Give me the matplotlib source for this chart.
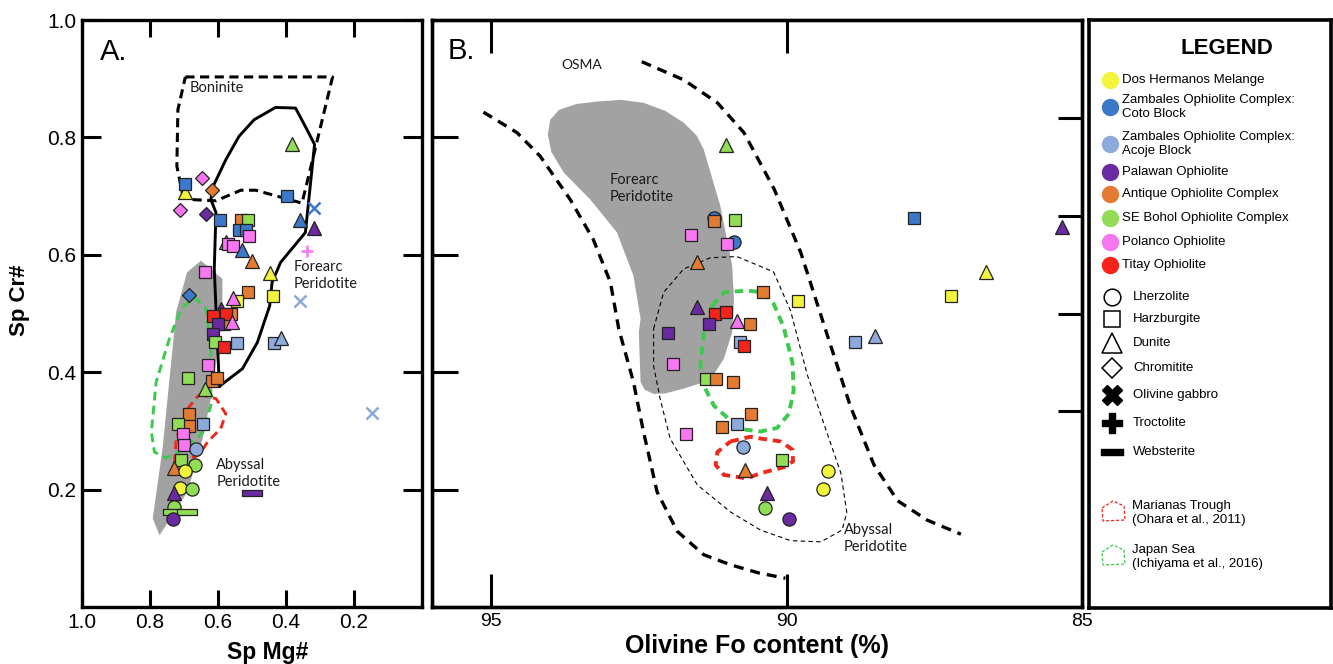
import matplotlib
matplotlib.use('Agg')
import matplotlib.pyplot as plt
from matplotlib.path import Path

plt.rcParams['font.family'] = ['Liberation Sans', 'DejaVu Sans']

# localities (colour key)
loc_codes = ['DH', 'ZC', 'ZA', 'PA', 'AN', 'BO', 'PO', 'TI']
loc_names = ['Dos Hermanos Melange',
             'Zambales Ophiolite Complex:\nCoto Block',
             'Zambales Ophiolite Complex:\nAcoje Block',
             'Palawan Ophiolite',
             'Antique Ophiolite Complex',
             'SE Bohol Ophiolite Complex',
             'Polanco Ophiolite',
             'Titay Ophiolite']
loc_colors = ['#f2f53c', '#3c78c8', '#8eaadc', '#6a2aa0',
              '#e37b33', '#93dc55', '#f777f0', '#f5231a']

# rock types (symbol key)
rock_codes = ['L', 'H', 'D', 'C', 'G', 'T', 'W']
rock_names = ['Lherzolite', 'Harzburgite', 'Dunite', 'Chromitite',
              'Olivine gabbro', 'Troctolite', 'Websterite']

# panel A: spinel Mg# vs Cr#
a_mg = [0.696, 0.696, 0.647, 0.619, 0.711, 0.635, 0.594, 0.531, 0.511, 0.538,
        0.517, 0.509, 0.577, 0.572, 0.556, 0.528, 0.501, 0.397, 0.382, 0.358,
        0.319, 0.319, 0.338, 0.358, 0.448, 0.438, 0.638, 0.511, 0.545, 0.556,
        0.684, 0.592, 0.562, 0.582, 0.616, 0.577, 0.558, 0.601, 0.614, 0.608,
        0.582, 0.545, 0.436, 0.416, 0.629, 0.687, 0.619, 0.603, 0.638, 0.686,
        0.684, 0.718, 0.645, 0.704, 0.699, 0.665, 0.708, 0.728, 0.668, 0.696,
        0.713, 0.676, 0.728, 0.728, 0.733, 0.690, 0.733, 0.499, 0.148]
a_cr = [0.707, 0.721, 0.730, 0.710, 0.676, 0.669, 0.660, 0.659, 0.660, 0.642,
        0.642, 0.632, 0.621, 0.618, 0.615, 0.608, 0.590, 0.700, 0.789, 0.659,
        0.645, 0.680, 0.606, 0.522, 0.569, 0.530, 0.571, 0.537, 0.522, 0.526,
        0.531, 0.508, 0.499, 0.482, 0.496, 0.499, 0.485, 0.482, 0.465, 0.451,
        0.443, 0.450, 0.450, 0.458, 0.413, 0.390, 0.385, 0.390, 0.371, 0.329,
        0.308, 0.311, 0.311, 0.294, 0.276, 0.270, 0.250, 0.236, 0.242, 0.231,
        0.202, 0.201, 0.195, 0.171, 0.162, 0.162, 0.150, 0.195, 0.331]
a_loc = ['DH', 'ZC', 'PO', 'AN', 'PO', 'PA', 'ZC', 'AN', 'BO', 'ZC',
         'ZC', 'PO', 'PO', 'PO', 'PO', 'ZC', 'AN', 'ZC', 'BO', 'ZC',
         'PA', 'ZC', 'PO', 'ZA', 'DH', 'DH', 'PO', 'AN', 'DH', 'PO',
         'ZC', 'PA', 'AN', 'AN', 'TI', 'TI', 'PO', 'PA', 'PA', 'BO',
         'TI', 'ZA', 'ZA', 'ZA', 'PO', 'BO', 'AN', 'AN', 'BO', 'AN',
         'AN', 'BO', 'ZA', 'PO', 'PO', 'ZA', 'BO', 'AN', 'BO', 'DH',
         'DH', 'BO', 'PA', 'BO', 'BO', 'BO', 'PA', 'PA', 'ZA']
a_rock = ['D', 'H', 'C', 'C', 'C', 'C', 'H', 'H', 'H', 'H',
          'H', 'H', 'D', 'H', 'H', 'D', 'D', 'H', 'D', 'D',
          'D', 'G', 'T', 'G', 'D', 'H', 'H', 'H', 'H', 'D',
          'C', 'D', 'H', 'H', 'H', 'H', 'D', 'H', 'H', 'H',
          'H', 'H', 'H', 'D', 'H', 'H', 'H', 'H', 'D', 'H',
          'H', 'H', 'H', 'H', 'H', 'L', 'H', 'D', 'L', 'L',
          'L', 'L', 'D', 'L', 'W', 'W', 'L', 'W', 'G']

# panel B: olivine Fo vs spinel Cr#
b_fo = [91.02, 91.22, 91.22, 90.88, 91.61, 90.89, 91.01, 91.51, 87.84, 85.33,
        86.63, 87.21, 90.40, 89.81, 91.51, 91.21, 91.02, 90.83, 90.61, 91.32,
        92.01, 90.78, 90.72, 88.84, 88.50, 91.92, 91.37, 91.20, 90.91, 90.60,
        90.84, 91.10, 91.71, 90.74, 90.71, 90.07, 89.30, 89.38, 90.33, 90.37,
        89.95]
b_cr = [0.787, 0.662, 0.658, 0.659, 0.633, 0.621, 0.618, 0.588, 0.662, 0.647,
        0.571, 0.530, 0.536, 0.522, 0.511, 0.499, 0.503, 0.488, 0.482, 0.482,
        0.466, 0.452, 0.444, 0.451, 0.461, 0.414, 0.389, 0.389, 0.383, 0.328,
        0.311, 0.307, 0.295, 0.272, 0.233, 0.250, 0.232, 0.201, 0.195, 0.169,
        0.150]
b_loc = ['BO', 'ZC', 'AN', 'BO', 'PO', 'ZC', 'PO', 'AN', 'ZC', 'PA',
         'DH', 'DH', 'AN', 'DH', 'PA', 'TI', 'TI', 'PO', 'AN', 'PA',
         'PA', 'ZA', 'TI', 'ZA', 'ZA', 'PO', 'BO', 'AN', 'AN', 'AN',
         'ZA', 'AN', 'PO', 'ZA', 'AN', 'BO', 'DH', 'DH', 'PA', 'BO',
         'PA']
b_rock = ['D', 'L', 'H', 'H', 'H', 'L', 'H', 'D', 'H', 'D',
          'D', 'H', 'H', 'H', 'D', 'H', 'H', 'D', 'H', 'H',
          'H', 'H', 'H', 'H', 'D', 'H', 'H', 'H', 'H', 'H',
          'H', 'H', 'H', 'L', 'D', 'H', 'L', 'L', 'D', 'L',
          'L']

# fields, panel A (Mg#, Cr#)
a_abyssal = [(0.650, 0.590), (0.587, 0.559), (0.587, 0.525), (0.596, 0.457),
             (0.621, 0.355), (0.645, 0.287), (0.689, 0.197), (0.772, 0.122),
             (0.792, 0.151), (0.763, 0.270), (0.723, 0.503), (0.691, 0.570)]
a_boninite = [(0.696, 0.903), (0.263, 0.903), (0.331, 0.740), (0.353, 0.688),
              (0.489, 0.710), (0.533, 0.710), (0.606, 0.692), (0.675, 0.694),
              (0.704, 0.703), (0.721, 0.751), (0.718, 0.847), (0.696, 0.903)]
a_forearc = [(0.596, 0.376), (0.528, 0.406), (0.484, 0.451), (0.448, 0.513),
             (0.441, 0.553), (0.416, 0.587), (0.343, 0.638), (0.316, 0.788),
             (0.338, 0.813), (0.372, 0.850), (0.431, 0.851), (0.494, 0.830),
             (0.538, 0.802), (0.577, 0.762), (0.614, 0.717), (0.621, 0.694),
             (0.606, 0.672), (0.611, 0.576), (0.596, 0.376)]
a_japan = [(0.670, 0.528), (0.635, 0.508), (0.621, 0.440), (0.621, 0.343),
           (0.645, 0.298), (0.694, 0.270), (0.752, 0.254), (0.787, 0.264),
           (0.796, 0.298), (0.782, 0.383), (0.743, 0.457), (0.708, 0.508),
           (0.670, 0.528)]
a_mariana = [(0.655, 0.362), (0.606, 0.355), (0.577, 0.329), (0.592, 0.304),
             (0.631, 0.281), (0.655, 0.259), (0.728, 0.244), (0.723, 0.287),
             (0.689, 0.338), (0.655, 0.362)]

# fields, panel B (Fo, Cr#)
b_forearc = [(93.21, 0.861), (92.80, 0.864), (92.42, 0.859), (92.05, 0.845),
             (91.74, 0.825), (91.52, 0.803), (91.40, 0.779), (91.12, 0.683),
             (90.92, 0.581), (90.89, 0.525), (90.92, 0.468), (91.06, 0.423),
             (91.22, 0.398), (91.40, 0.383), (91.74, 0.372), (92.05, 0.364),
             (92.25, 0.363), (92.40, 0.370), (92.47, 0.383), (92.50, 0.468),
             (92.47, 0.491), (92.59, 0.564), (92.87, 0.638), (93.32, 0.694),
             (93.77, 0.740), (93.98, 0.775), (94.04, 0.805), (94.00, 0.830),
             (93.85, 0.847), (93.55, 0.857)]
b_osma_low = [(95.13, 0.843), (94.56, 0.808), (94.17, 0.768), (93.66, 0.694),
              (93.27, 0.626), (92.98, 0.553), (92.84, 0.474), (92.59, 0.383),
              (92.42, 0.298), (92.19, 0.196), (91.85, 0.129), (91.40, 0.089),
              (90.95, 0.072), (90.47, 0.058), (90.02, 0.049)]
b_osma_high = [(92.45, 0.929), (91.74, 0.898), (91.17, 0.859), (90.72, 0.808),
               (90.21, 0.712), (89.76, 0.604), (89.31, 0.463), (88.92, 0.342),
               (88.52, 0.242), (88.12, 0.181), (87.62, 0.148), (87.05, 0.124)]
b_abyssal = [(92.25, 0.474), (92.08, 0.536), (91.74, 0.576), (91.29, 0.595),
             (90.84, 0.597), (90.22, 0.571), (89.93, 0.504), (89.65, 0.396),
             (89.31, 0.295), (89.08, 0.228), (88.98, 0.161), (89.06, 0.131),
             (89.42, 0.111), (89.93, 0.113), (90.44, 0.131), (90.95, 0.162),
             (91.51, 0.208), (91.97, 0.287), (92.14, 0.355), (92.25, 0.411),
             (92.25, 0.474)]
b_japan = [(91.26, 0.513), (91.06, 0.536), (90.67, 0.539), (90.38, 0.536),
           (90.22, 0.517), (90.05, 0.477), (89.90, 0.416), (89.88, 0.369),
           (89.96, 0.329), (90.16, 0.305), (90.44, 0.299), (90.69, 0.302),
           (90.95, 0.318), (91.23, 0.343), (91.40, 0.377), (91.46, 0.411),
           (91.40, 0.468), (91.26, 0.513)]
b_mariana = [(90.95, 0.282), (90.61, 0.290), (90.44, 0.287), (90.10, 0.282),
             (89.90, 0.268), (89.89, 0.248), (90.05, 0.238), (90.44, 0.228),
             (90.67, 0.219), (91.06, 0.225), (91.20, 0.242), (91.17, 0.264),
             (90.95, 0.282)]

b_right_ticks = [1/3, 1/2, 2/3, 5/6]

GREEN = '#3dc94c'
RED = '#f0281c'
GRAY = '#a2a2a2'

color_of = dict(zip(loc_codes, loc_colors))
bar = Path([(-1, -0.27), (1, -0.27), (1, 0.27), (-1, 0.27), (-1, -0.27)],
           [Path.MOVETO, Path.LINETO, Path.LINETO, Path.LINETO, Path.CLOSEPOLY])
style = {'L': dict(marker='o', ms=9.5),
         'H': dict(marker='s', ms=8),
         'D': dict(marker='^', ms=10),
         'C': dict(marker='D', ms=7),
         'W': dict(marker=bar, ms=14)}


def draw_points(ax, xs, ys, locs, rocks):
    for i, (x, y, lc, rk) in enumerate(zip(xs, ys, locs, rocks)):
        c = color_of[lc]
        if rk == 'G':
            ax.plot(x, y, marker='x', color=c, ms=8, mew=1.8, ls='none', zorder=10 + i)
        elif rk == 'T':
            ax.plot(x, y, marker='+', color=c, ms=9, mew=1.8, ls='none', zorder=10 + i)
        else:
            ax.plot(x, y, ls='none', mfc=c, mec='#222222', mew=0.9, zorder=10 + i, **style[rk])


def line(ax, pts, **kw):
    xs, ys = zip(*pts)
    ax.plot(xs, ys, solid_joinstyle='round', **kw)


def fill(ax, pts, **kw):
    xs, ys = zip(*pts)
    ax.fill(xs, ys, **kw)


W, H = 1333, 664
fig = plt.figure(figsize=(W / 100, H / 100), dpi=100)


def box(l, t, r, b):
    return [l / W, 1 - b / H, (r - l) / W, (b - t) / H]


ann = dict(family=['Lato', 'DejaVu Sans'], fontsize=10.5, color='#1a1a1a', linespacing=1.25)

# ---------------- panel A ----------------
axA = fig.add_axes(box(82, 20, 422, 607))
fill(axA, a_abyssal, color=GRAY, lw=0, zorder=1)
line(axA, a_boninite, color='black', lw=2.2, dashes=(3, 1.8), zorder=3)
line(axA, a_forearc, color='black', lw=2.1, zorder=3)
line(axA, a_japan, color=GREEN, lw=2.1, dashes=(3, 1.8), zorder=4)
line(axA, a_mariana, color=RED, lw=2.1, dashes=(3, 1.8), zorder=4)
draw_points(axA, a_mg, a_cr, a_loc, a_rock)

axA.set_xlim(1.0, 0.0)
axA.set_ylim(0, 1)
axA.set_xticks([1.0, 0.8, 0.6, 0.4, 0.2])
axA.set_xticklabels(['1.0', '0.8', '0.6', '0.4', '0.2'])
axA.set_yticks([0.2, 0.4, 0.6, 0.8, 1.0])
axA.set_yticklabels(['0.2', '0.4', '0.6', '0.8', '1.0'])
axA.tick_params(direction='in', width=2.2, top=True, right=True, labelsize=15, pad=4)
axA.tick_params(axis='x', length=12.5)
axA.tick_params(axis='y', length=14)
for s in axA.spines.values():
    s.set_linewidth(2.4)

axA.text(0.947, 0.946, 'A.', fontsize=21, va='center', ha='left')
axA.text(0.684, 0.885, 'Boninite', va='center', ha='left', **ann)
axA.text(0.377, 0.565, 'Forearc\nPeridotite', va='center', ha='left', **ann)
axA.text(0.605, 0.228, 'Abyssal\nPeridotite', va='center', ha='left', **ann)

# ---------------- panel B ----------------
axB = fig.add_axes(box(432, 20, 1082, 607))
fill(axB, b_forearc, color=GRAY, lw=0, zorder=1)
line(axB, b_osma_low, color='black', lw=2.4, dashes=(3, 2.1), zorder=3)
line(axB, b_osma_high, color='black', lw=2.4, dashes=(3, 2.1), zorder=3)
line(axB, b_abyssal, color='black', lw=0.8, dashes=(4, 3), zorder=3)
line(axB, b_japan, color=GREEN, lw=2.8, dashes=(2.2, 1.5), zorder=4)
line(axB, b_mariana, color=RED, lw=2.8, dashes=(2.2, 1.5), zorder=4)
draw_points(axB, b_fo, b_cr, b_loc, b_rock)

axB.set_xlim(96, 85)
axB.set_ylim(0, 1)
axB.set_xticks([95, 90, 85])
axB.set_xticklabels(['95', '90', '85'])
axB.set_yticks([0.2, 0.4, 0.6, 0.8])
axB.tick_params(axis='x', direction='in', length=24, width=2.2, top=True,
                labelsize=14, pad=4)
axB.tick_params(axis='y', direction='in', length=19, width=2.2, left=True,
                right=False, labelleft=False)
for s in axB.spines.values():
    s.set_linewidth(2.4)
axR = axB.twinx()
axR.set_ylim(0, 1)
axR.set_yticks(b_right_ticks)
axR.tick_params(axis='y', direction='in', length=17, width=2.2, labelright=False)
for s in axR.spines.values():
    s.set_linewidth(2.4)

axB.text(95.73, 0.947, 'B.', fontsize=21, va='center', ha='left')
axB.text(93.47, 0.924, 'OSMA', va='center', ha='center',
         **{**ann, 'fontsize': 10})
axB.text(93.0, 0.713, 'Forearc\nPeridotite', va='center', ha='left', **ann)
axB.text(89.03, 0.117, 'Abyssal\nPeridotite', va='center', ha='left', **ann)

# axis titles
fig.text(20 / W, 1 - 300 / H, 'Sp Cr#', rotation=90, fontsize=16,
         fontweight='bold', ha='center', va='center')
fig.text(268 / W, 1 - 653 / H, 'Sp Mg#', fontsize=16.5, fontweight='bold',
         ha='center', va='center')
fig.text(757 / W, 1 - 646 / H, 'Olivine Fo content (%)', fontsize=18,
         fontweight='bold', ha='center', va='center')

# ---------------- legend box ----------------
axL = fig.add_axes(box(1089, 20, 1331, 608))
axL.set_xlim(1089, 1331)
axL.set_ylim(608, 20)
axL.set_xticks([])
axL.set_yticks([])
for s in axL.spines.values():
    s.set_linewidth(2.6)

axL.text(1227, 48, 'LEGEND', fontsize=16, fontweight='bold', ha='center', va='center')
loc_rows = [80, 107, 144, 172, 194, 218, 242, 265]
for name, c, yy in zip(loc_names, loc_colors, loc_rows):
    axL.plot(1110, yy, marker='o', ms=11.5, color=c, mec=c, ls='none')
    axL.text(1122, yy, name, fontsize=9.5, va='center', ha='left', linespacing=1.3)

rock_rows = [297, 319, 343, 368, 395, 423, 452]
rock_marks = [dict(marker='o', ms=12, mfc='white', mec='black', mew=1.1),
              dict(marker='s', ms=12, mfc='white', mec='black', mew=1.1),
              dict(marker='^', ms=15, mfc='white', mec='black', mew=1.1),
              dict(marker='D', ms=10, mfc='white', mec='black', mew=1.1),
              dict(marker='X', ms=15, color='black'),
              dict(marker='P', ms=15, color='black'),
              dict(marker=bar, ms=16, color='black')]
for name, mk, yy in zip(rock_names, rock_marks, rock_rows):
    axL.plot(1112, yy, ls='none', **mk)
    axL.text(1133, yy, name, fontsize=9.5, va='center', ha='left')

icon = [(-11, -3), (0, -10), (11, -5), (12, 9), (-10, 10), (-11, -3)]
region_rows = [(513, RED, 'Marianas Trough\n(Ohara et al., 2011)'),
               (557, GREEN, 'Japan Sea\n(Ichiyama et al., 2016)')]
for yy, c, name in region_rows:
    ix = [1113 + dx for dx, dy in icon]
    iy = [yy - 2 + dy for dx, dy in icon]
    axL.plot(ix, iy, color=c, lw=0.9, dashes=(2.5, 1.5))
    axL.text(1132, yy, name, fontsize=9.5, va='center', ha='left', linespacing=1.3)

fig.savefig('out.png', dpi=100)
